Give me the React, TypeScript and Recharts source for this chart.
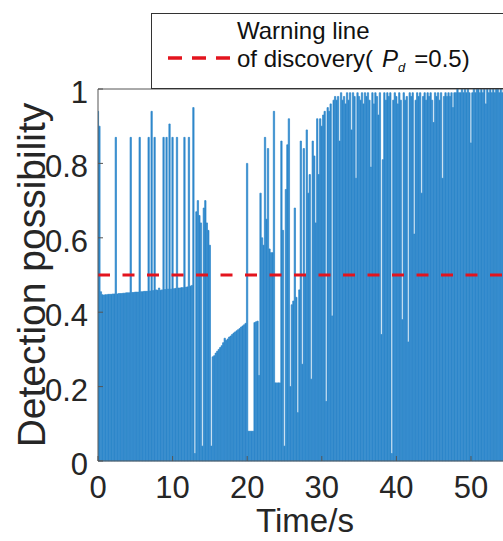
import React from 'react';
import { BarChart, Bar, XAxis, YAxis, ReferenceLine, Legend, Label } from 'recharts';

const FONT = '"Liberation Sans", Arial, Helvetica, sans-serif';
const BLUE = '#2F88CB';
const RED = '#E3141E';
const AXIS = '#555555';
const TEXT = '#262626';

// Detection possibility sampled every 0.2 s; each row = one second (s, s+0.2, s+0.4, s+0.6, s+0.8)
const pdPhase1 = [
  0.94, 0.90, 0.455, 0.447, 0.446,
  0.447, 0.447, 0.448, 0.448, 0.448,
  0.449, 0.449, 0.87, 0.449, 0.450,
  0.450, 0.450, 0.451, 0.451, 0.452,
  0.452, 0.452, 0.87, 0.453, 0.453,
  0.454, 0.454, 0.454, 0.87, 0.455,
  0.455, 0.456, 0.456, 0.456, 0.87,
  0.457, 0.94, 0.458, 0.87, 0.460,
  0.459, 0.465, 0.459, 0.460, 0.87,
  0.461, 0.87, 0.462, 0.906, 0.462,
  0.87, 0.463, 0.464, 0.87, 0.465,
  0.465, 0.466, 0.466, 0.87, 0.467,
  0.468, 0.87, 0.470, 0.472, 0.95,
];
const pdPhase2 = [
  0.02, 0.67, 0.70, 0.66, 0.64,
  0.04, 0.68, 0.70, 0.64, 0.62,
  0.58, 0.04, 0.28, 0.283, 0.29,
  0.295, 0.30, 0.305, 0.31, 0.318,
  0.33, 0.324, 0.328, 0.333, 0.336,
  0.34, 0.344, 0.347, 0.35, 0.353,
  0.356, 0.36, 0.363, 0.366, 0.37,
  0.80, 0.08, 0.08, 0.08, 0.08,
];
const pdPhase3 = [
  0.372, 0.374, 0.376, 0.23, 0.72,
  0.60, 0.58, 0.87, 0.65, 0.84,
  0.57, 0.56, 0.56, 0.94, 0.21,
  0.21, 0.21, 0.21, 0.86, 0.62,
  0.04, 0.73, 0.85, 0.92, 0.20,
  0.42, 0.43, 0.68, 0.44, 0.13,
  0.46, 0.86, 0.26, 0.84, 0.50,
  0.89, 0.72, 0.77, 0.22, 0.86,
  0.82, 0.64, 0.92, 0.77, 0.92,
];
const pdPhase4 = [
  0.90, 0.93, 0.94, 0.16, 0.95,
  0.94, 0.96, 0.39, 0.97, 0.98,
  0.97, 0.98, 0.86, 0.99, 0.97,
  0.98, 0.96, 0.99, 0.97, 0.99,
  0.89, 0.99, 0.98, 0.76, 0.99,
  0.98, 0.97, 0.99, 0.96, 0.99,
  0.98, 0.99, 0.97, 0.79, 0.99,
  0.96, 0.99, 0.98, 0.93, 0.99,
  0.34, 0.81, 0.99, 0.97, 0.99,
  0.98, 0.99, 0.02, 0.97, 0.99,
  0.98, 0.96, 0.99, 0.97, 0.38,
  0.99, 0.97, 0.98, 0.32, 0.99,
  0.98, 0.99, 0.61, 0.97, 0.99,
  0.98, 0.99, 0.72, 0.98, 0.99,
  0.97, 0.99, 0.98, 0.99, 0.97,
  0.91, 0.99, 0.98, 0.99, 0.97,
  0.99, 0.76, 0.98, 0.99, 0.98,
  0.99, 0.98, 0.99, 0.95, 0.99,
  0.99, 1.0, 0.99, 0.99, 1.0,
  0.99, 1.0, 0.99, 1.0, 0.99,
  0.855, 0.99, 1.0, 0.99, 1.0,
  1.0, 0.99, 1.0, 0.99, 1.0,
  0.96, 1.0, 0.99, 1.0, 0.99,
  1.0, 0.99, 1.0, 1.0, 0.99,
  1.0, 0.99, 1.0, 0.99, 1.0,
  0.99, 1.0, 0.99,
];

const detection = [...pdPhase1, ...pdPhase2, ...pdPhase3, ...pdPhase4];
const sampleStep = 0.2;
const times = detection.map((_, i) => Math.round(i * sampleStep * 10) / 10);

const xTicks = [0, 10, 20, 30, 40, 50];
const yTicks = [0, 0.2, 0.4, 0.6, 0.8, 1];
const warningLevel = 0.5;
const xDomain: [number, number] = [0, 55.5];

const data = times.map((t, i) => ({ t, pd: detection[i] }));

const LegendBox = () => (
  <div
    style={{
      position: 'relative',
      width: 420,
      height: 76,
      border: '1.3px solid #333',
      background: '#fff',
      boxSizing: 'border-box',
      fontFamily: FONT,
      fontSize: 24,
      color: '#111',
      textAlign: 'left',
    }}
  >
    <svg style={{ position: 'absolute', left: 16, top: 41 }} width={62} height={6}>
      <line x1={0} y1={3} x2={62} y2={3} stroke={RED} strokeWidth={3.5} strokeDasharray="14 10" />
    </svg>
    <div
      style={{
        position: 'absolute',
        left: 85,
        top: 3,
        lineHeight: '27.5px',
        whiteSpace: 'nowrap',
        textAlign: 'left',
      }}
    >
      <div>Warning line</div>
      <div>
        of discovery(
        <span style={{ fontStyle: 'italic', marginLeft: 9 }}>P</span>
        <span style={{ fontStyle: 'italic', fontSize: 13, position: 'relative', top: 5 }}>d</span>
        <span style={{ marginLeft: 9 }}>=0.5)</span>
      </div>
    </div>
  </div>
);

const YLabel = () => (
  <text
    x={31}
    y={275}
    transform="rotate(-90, 31, 275)"
    textAnchor="middle"
    dominantBaseline="central"
    fontFamily={FONT}
    fontSize={39}
    fill={TEXT}
  >
    Detection possibility
  </text>
);

const XLabel = () => (
  <text x={305} y={532} textAnchor="middle" fontFamily={FONT} fontSize={33} fill={TEXT}>
    Time/s
  </text>
);

export default function App() {
  return (
    <div
      style={{
        position: 'absolute',
        left: 0,
        top: 0,
        width: 503,
        height: 541,
        overflow: 'hidden',
        background: '#fff',
      }}
    >
      <BarChart
        width={540}
        height={541}
        data={data}
        margin={{ top: 59, right: 28, bottom: 30, left: 38 }}
        barCategoryGap={0}
        barGap={0}
      >
        <XAxis
          dataKey="t"
          type="number"
          domain={xDomain}
          ticks={xTicks}
          allowDataOverflow
          height={50}
          tickSize={-5}
          tickMargin={20}
          axisLine={{ stroke: AXIS, strokeWidth: 1 }}
          tickLine={{ stroke: AXIS }}
          tick={{ fontFamily: FONT, fontSize: 31, fill: TEXT }}
        >
          <Label content={XLabel} />
        </XAxis>
        <XAxis
          xAxisId="top"
          orientation="top"
          type="number"
          domain={xDomain}
          ticks={xTicks}
          allowDataOverflow
          height={30}
          tickSize={-5}
          tick={false}
          axisLine={{ stroke: AXIS, strokeWidth: 1 }}
          tickLine={{ stroke: AXIS }}
        />
        <YAxis
          type="number"
          domain={[0, 1]}
          ticks={yTicks}
          width={60}
          tickSize={-5}
          tickMargin={15}
          tickFormatter={(v: number) => String(v)}
          axisLine={{ stroke: AXIS, strokeWidth: 1 }}
          tickLine={{ stroke: AXIS }}
          tick={{ fontFamily: FONT, fontSize: 31, fill: TEXT, dy: 3 }}
        >
          <Label content={YLabel} />
        </YAxis>
        <Bar
          dataKey="pd"
          fill={BLUE}
          stroke={BLUE}
          strokeWidth={0.7}
          barSize={2}
          isAnimationActive={false}
        />
        <ReferenceLine
          y={warningLevel}
          stroke={RED}
          strokeWidth={3}
          strokeDasharray="12 12.5"
          ifOverflow="visible"
        />
        <Legend
          layout="horizontal"
          verticalAlign="middle"
          align="center"
          content={LegendBox}
          wrapperStyle={{ left: 151, top: 13, width: 420, height: 76 }}
        />
      </BarChart>
    </div>
  );
}
